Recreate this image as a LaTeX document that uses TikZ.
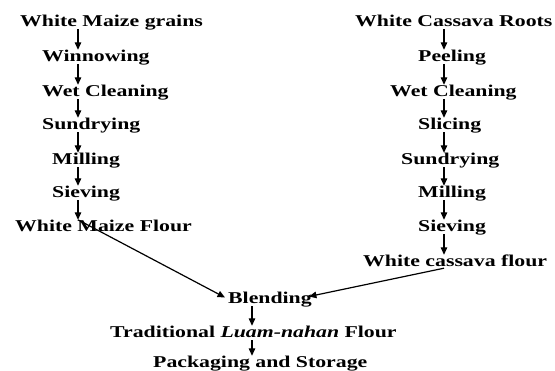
\documentclass[tikz,border=0pt]{standalone}
\usepackage{fontspec}
\setmainfont{Liberation Serif}[FakeStretch=1.32]
\usetikzlibrary{arrows.meta}
\begin{document}
\begin{tikzpicture}[x=1pt,y=-1pt,
  lbl/.style={font=\fontsize{16.5}{19}\selectfont\bfseries, inner sep=0pt, anchor=base west, text height=11pt, text depth=0pt},
  arr/.style={line width=1.2pt, -{Triangle[width=6.5pt,length=7.5pt]}}]
\useasboundingbox[fill=white] (0,0) rectangle (555,371);
\coordinate (cl) at (78,0);
\coordinate (cr) at (444,0);
\coordinate (cb) at (252,0);
% left column
\node[lbl] (l0) at (20,27) {White Maize grains};
\node[lbl] (l1) at (42,62) {Winnowing};
\node[lbl] (l2) at (42,97) {Wet Cleaning};
\node[lbl] (l3) at (42,130) {Sundrying};
\node[lbl] (l4) at (52,165) {Milling};
\node[lbl] (l5) at (52,198) {Sieving};
\node[lbl] (l6) at (15,232) {White Maize Flour};
% right column
\node[lbl] (r0) at (355,27) {White Cassava Roots};
\node[lbl] (r1) at (418,62) {Peeling};
\node[lbl] (r2) at (390,97) {Wet Cleaning};
\node[lbl] (r3) at (418,130) {Slicing};
\node[lbl] (r4) at (401,165) {Sundrying};
\node[lbl] (r5) at (418,198) {Milling};
\node[lbl] (r6) at (418,232) {Sieving};
\node[lbl] (r7) at (363,267) {White cassava flour};
% bottom
\node[lbl] (b0) at (228,304) {Blending};
\node[lbl] (b1) at (110,338) {Traditional \textit{Luam-nahan} Flour};
\node[lbl] (b2) at (153,368) {Packaging and Storage};
% arrows
\foreach \a/\b in {l0/l1,l1/l2,l2/l3,l3/l4,l4/l5,l5/l6}
  \draw[arr] ([yshift=-2pt]\a.south -| cl) -- ([yshift=1pt]\b.north -| cl);
\foreach \a/\b in {r0/r1,r1/r2,r2/r3,r3/r4,r4/r5,r5/r6,r6/r7}
  \draw[arr] ([yshift=-2pt]\a.south -| cr) -- ([yshift=1pt]\b.north -| cr);
\foreach \a/\b in {b0/b1,b1/b2}
  \draw[arr] ([yshift=-2pt]\a.south -| cb) -- ([yshift=1pt]\b.north -| cb);
\draw[arr] ([yshift=1pt]l6.north -| cl) -- ([xshift=-3pt,yshift=1pt]b0.west);
\draw[arr] ([yshift=-1pt]r7.south -| cr) -- ([xshift=-3pt,yshift=2pt]b0.east);
\end{tikzpicture}
\end{document}
